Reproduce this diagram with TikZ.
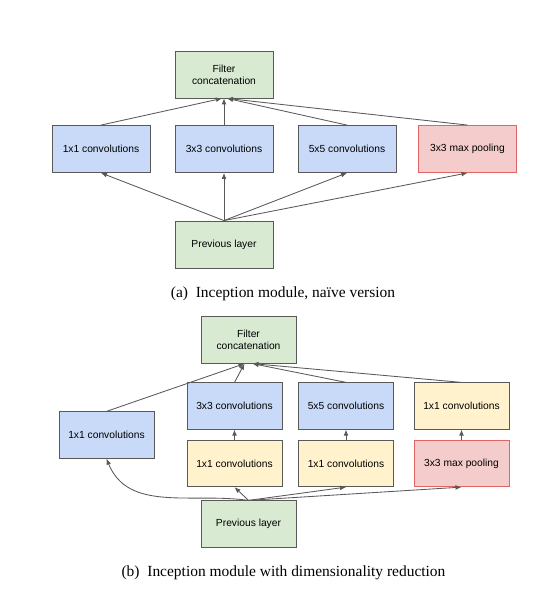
\documentclass[tikz,border=0pt]{standalone}
\usepackage{fontspec}
\setmainfont{Liberation Serif}
\newfontfamily\boxfont{Liberation Sans}
\usepackage{tikz}
\usetikzlibrary{arrows.meta,calc}
\definecolor{edgegray}{HTML}{595959}
\definecolor{layergreen}{HTML}{D9EAD3}
\definecolor{convblue}{HTML}{C9DAF8}
\definecolor{reduceyellow}{HTML}{FFF2CC}
\definecolor{poolred}{HTML}{F4CCCC}
\definecolor{pooledge}{HTML}{E06666}
\tikzset{
  blk/.style={draw=edgegray,line width=0.6pt,minimum width=2.45cm,minimum height=1.175cm,inner sep=1pt,align=center,font=\boxfont\fontsize{7.3}{8.7}\selectfont},
  layer/.style={blk,fill=layergreen},
  conv/.style={blk,fill=convblue},
  reduce/.style={blk,fill=reduceyellow},
  pool/.style={blk,fill=poolred,draw=pooledge},
  flow/.style={-{Latex[length=1.5mm,width=1.2mm]},line width=0.6pt,draw=edgegray},
  capt/.style={font=\fontsize{11}{13}\selectfont},
}

\begin{document}
\begin{tikzpicture}
\fill[white] (0,0) rectangle (13.875,-15.275);
\useasboundingbox (0,0) rectangle (13.875,-15.275);
% (a) naive version
\begin{scope}
\node[layer] (concatA) at (5.6,-1.8625) {Filter\\concatenation};
\node[conv] (oneA) at (2.525,-3.725) {1x1 convolutions};
\node[conv] (threeA) at (5.6,-3.725) {3x3 convolutions};
\node[conv] (fiveA) at (8.675,-3.725) {5x5 convolutions};
\node[pool] (poolA) at (11.6875,-3.725) {3x3 max pooling};
\node[layer] (prevA) at (5.6,-6.1125) {Previous layer};
\draw[flow] (oneA.north) -- ($(concatA.south)+(-0.05,0)$);
\draw[flow] (threeA.north) -- (concatA.south);
\draw[flow] (fiveA.north) -- ($(concatA.south)+(0.075,0)$);
\draw[flow] (poolA.north) -- ($(concatA.south)+(0.075,0)$);
\draw[flow] (prevA.north) -- (oneA.south);
\draw[flow] (prevA.north) -- (threeA.south);
\draw[flow] (prevA.north) -- (fiveA.south);
\draw[flow] (prevA.north) -- (poolA.south);
\node[capt] (captA) at (7.075,-7.35) {(a)\enspace Inception module, na\"ive version};
\end{scope}
% (b) with dimensionality reduction
\begin{scope}[blk/.append style={minimum width=2.375cm,minimum height=1.16cm}]
\node[layer] (concatB) at (6.2125,-8.5) {Filter\\concatenation};
\node[conv] (oneB) at (2.6625,-10.875) {1x1 convolutions};
\node[conv] (threeB) at (5.8625,-10.15) {3x3 convolutions};
\node[conv] (fiveB) at (8.65,-10.15) {5x5 convolutions};
\node[reduce] (oneC) at (11.5375,-10.15) {1x1 convolutions};
\node[reduce] (redThree) at (5.8625,-11.5875) {1x1 convolutions};
\node[reduce] (redFive) at (8.65,-11.5875) {1x1 convolutions};
\node[pool] (poolB) at (11.5375,-11.5875) {3x3 max pooling};
\node[layer] (prevB) at (6.2125,-13.1) {Previous layer};
\draw[flow] (oneB.north) -- ($(concatB.south)+(-0.1,0)$);
\draw[flow] (threeB.north) -- ($(concatB.south)+(-0.1,0)$);
\draw[flow] (fiveB.north) -- ($(concatB.south)+(0.1,0)$);
\draw[flow] (oneC.north) -- ($(concatB.south)+(0.1,0)$);
\draw[flow] (redThree.north) -- (threeB.south);
\draw[flow] (redFive.north) -- (fiveB.south);
\draw[flow] (poolB.north) -- (oneC.south);
\draw[flow] (prevB.north) to[out=172,in=-68] (oneB.south);
\draw[flow] (prevB.north) -- (redThree.south);
\draw[flow] (prevB.north) -- (redFive.south);
\draw[flow] (prevB.north) -- (poolB.south);
\node[capt] (captB) at (7.0875,-14.325) {(b)\enspace Inception module with dimensionality reduction};
\end{scope}
\end{tikzpicture}
\end{document}
